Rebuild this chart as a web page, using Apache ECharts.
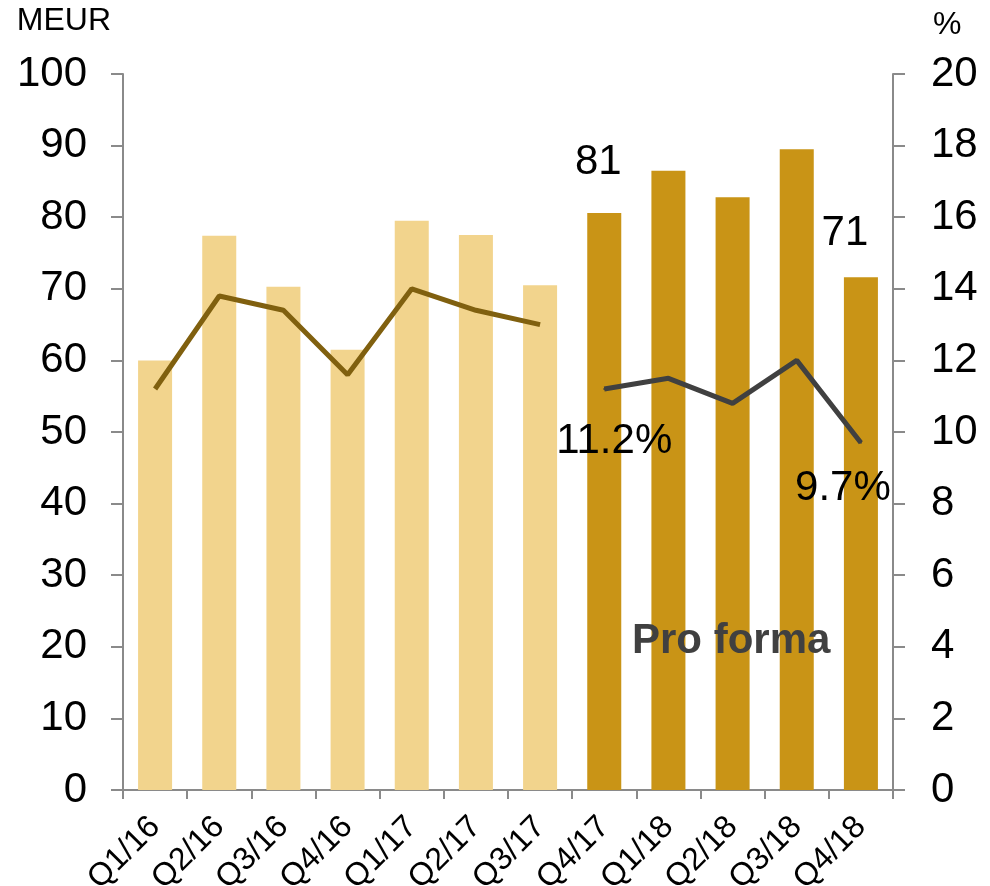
<!DOCTYPE html>
<html><head><meta charset="utf-8">
<script src="https://cdn.jsdelivr.net/npm/echarts@6/dist/echarts.min.js"></script>
<style>html,body{margin:0;padding:0;background:#fff}#c{width:990px;height:886px}</style>
</head><body><div id="c"></div>
<script>
const categories = ['Q1/16','Q2/16','Q3/16','Q4/16','Q1/17','Q2/17','Q3/17','Q4/17','Q1/18','Q2/18','Q3/18','Q4/18'];
const salesValues = [60.0, 77.4, 70.3, 61.5, 79.5, 77.5, 70.5, 80.6, 86.5, 82.8, 89.5, 71.6];
const marginHistoric = [11.2, 13.8, 13.4, 11.6, 14.0, 13.4, 13.0, null, null, null, null, null];
const marginProForma = [null, null, null, null, null, null, null, 11.2, 11.5, 10.8, 12.0, 9.7];
const leftTicks = {min: 0, max: 100, interval: 10};
const rightTicks = {min: 0, max: 20, interval: 2};
const proFormaStart = 7;

const FONT = '"Liberation Sans", Arial, sans-serif';
const axisColor = '#8a8a8a';

const barData = salesValues.map((v, i) => {
  const item = {value: v, itemStyle: {color: i >= proFormaStart ? '#C99416' : '#F2D48D'}};
  if (i === 7) item.label = {show: true, position: 'top', offset: [-6, -24], formatter: '81'};
  if (i === 11) item.label = {show: true, position: 'top', offset: [-16, -18], formatter: '71'};
  return item;
});
const proData = marginProForma.map((v, i) => {
  if (v == null) return '-';
  const item = {value: v};
  if (i === 7) item.label = {show: true, position: 'bottom', offset: [10, 25], formatter: '11.2%'};
  if (i === 11) item.label = {show: true, position: 'bottom', offset: [-18, 19], formatter: '9.7%'};
  return item;
});

const chart = echarts.init(document.getElementById('c'), null, {renderer: 'canvas'});
chart.setOption({
  animation: false,
  textStyle: {fontFamily: FONT},
  title: {
    text: 'Pro forma', left: 627, top: 615,
    textStyle: {fontFamily: FONT, fontWeight: 'bold', fontSize: 42, color: '#404040'}
  },
  grid: {left: 123, right: 97, top: 74, bottom: 96, containLabel: false, outerBoundsMode: 'none'},
  xAxis: {
    type: 'category', data: categories,
    axisLine: {lineStyle: {color: axisColor, width: 2}},
    axisTick: {show: true, length: 9, lineStyle: {color: axisColor, width: 2}},
    axisLabel: {rotate: 45, fontSize: 32, color: '#000', margin: 32, fontFamily: FONT}
  },
  yAxis: [{
    type: 'value', ...leftTicks,
    name: 'MEUR', nameLocation: 'end', nameGap: 37,
    nameTextStyle: {fontSize: 32, color: '#000', align: 'right', padding: [0, 12, 0, 0], fontFamily: FONT},
    axisLine: {show: true, lineStyle: {color: axisColor, width: 2}},
    axisTick: {show: true, length: 12, lineStyle: {color: axisColor, width: 2}},
    splitLine: {show: false},
    axisLabel: {fontSize: 42, color: '#000', margin: 36, fontFamily: FONT}
  }, {
    type: 'value', ...rightTicks, position: 'right',
    name: '%', nameLocation: 'end', nameGap: 33,
    nameTextStyle: {fontSize: 32, color: '#000', align: 'left', padding: [0, 0, 0, 40], fontFamily: FONT},
    axisLine: {show: true, lineStyle: {color: axisColor, width: 2}},
    axisTick: {show: true, length: 12, lineStyle: {color: axisColor, width: 2}},
    splitLine: {show: false},
    axisLabel: {fontSize: 42, color: '#000', margin: 38, fontFamily: FONT}
  }],
  series: [{
    type: 'bar', data: barData, barWidth: '53%', yAxisIndex: 0,
    label: {fontSize: 42, color: '#000', fontFamily: FONT}
  }, {
    type: 'line', data: marginHistoric.map(v => v == null ? '-' : v), yAxisIndex: 1,
    symbol: 'none', lineStyle: {color: '#80600F', width: 5}, connectNulls: false
  }, {
    type: 'line', data: proData, yAxisIndex: 1,
    symbol: 'circle', symbolSize: 2, showSymbol: true,
    itemStyle: {color: '#404040'},
    lineStyle: {color: '#404040', width: 5},
    label: {fontSize: 42, color: '#000', fontFamily: FONT}
  }]
});
</script></body></html>
